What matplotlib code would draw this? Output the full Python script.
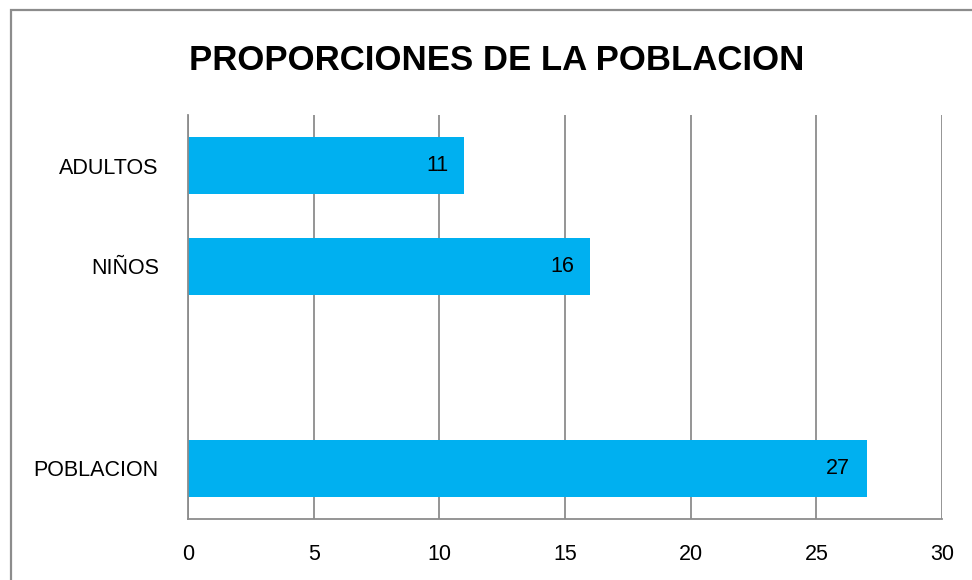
import matplotlib.pyplot as plt
from matplotlib.patches import Rectangle

categories = ['ADULTOS', 'NIÑOS', '', 'POBLACION']
values = [11, 16, 0, 27]
xticks = [0, 5, 10, 15, 20, 25, 30]

plt.rcParams['font.family'] = ['Liberation Sans', 'DejaVu Sans']

fig = plt.figure(figsize=(9.72, 5.8), dpi=100)
ax = fig.add_axes([188 / 972, 61 / 580, 754 / 972, 404 / 580])

# outer chart frame, cut off at right and bottom like the original
fig.add_artist(Rectangle((11 / 972, -0.1), 1.2, (580 - 10) / 580 + 0.1,
                         transform=fig.transFigure, fill=False,
                         edgecolor='#8c8c8c', linewidth=1.6))

pos = list(range(len(categories)))
bars = ax.barh(pos, values, height=0.57, color='#00B0F0', zorder=3)
for p, v in zip(pos, values):
    if v:
        ax.text(v - 0.65, p, str(v), ha='right', va='center', fontsize=15.5, zorder=4)

ax.set_ylim(len(categories) - 0.5, -0.5)
ax.set_xlim(0, 30)
ax.set_xticks(xticks)
ax.set_yticks(pos)
ax.set_yticklabels(categories, fontsize=15.5)
ax.tick_params(axis='x', labelsize=15.5, length=0, pad=18)
ax.tick_params(axis='y', length=0, pad=21)
ax.xaxis.grid(True, color='#8c8c8c', linewidth=1.3, zorder=0)
for s in ['top', 'right']:
    ax.spines[s].set_visible(False)
for s in ['left', 'bottom']:
    ax.spines[s].set_color('#8c8c8c')
    ax.spines[s].set_linewidth(1.3)
    ax.spines[s].set_zorder(5)

fig.text(497 / 972, 1 - 60 / 580, 'PROPORCIONES DE LA POBLACION', ha='center', va='center',
         fontsize=25, fontweight='bold')

fig.savefig('out.png', dpi=100)
